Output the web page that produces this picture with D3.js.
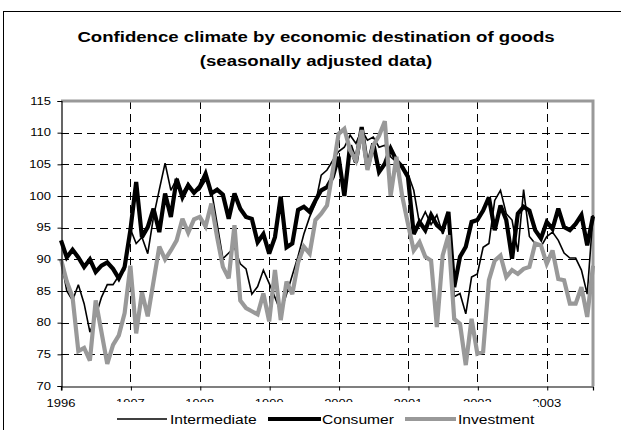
<!DOCTYPE html>
<html>
<head>
<meta charset="utf-8">
<script src="https://cdn.jsdelivr.net/npm/d3@7"></script>
<style>
  html, body { margin: 0; padding: 0; background: #fff; }
  svg { display: block; }
  text { font-family: Arial, "Liberation Sans", sans-serif; fill: #000; }
</style>
</head>
<body>
<svg id="chart" width="621" height="430"></svg>
<script>
// Monthly confidence indicators, January 1996 to September 2003
const yearLabels = ["1996", "1997", "1998", "1999", "2000", "2001", "2002", "2003"];
const yTicks = [70, 75, 80, 85, 90, 95, 100, 105, 110, 115];
const seriesNames = ["Intermediate", "Consumer", "Investment"];

const intermediate = [
  90, 85, 83.5, 86, 83, 78.5, 81, 84, 86, 86, 87.4, 88.3,
  94.8, 92.5, 93.5, 90.9, 96.7, 101, 105.2, 100.9, 102.7, 100.5, 102, 100.5,
  101, 102.5, 101, 95.6, 90.1, 91, 91.9, 89.3, 88.5, 84.5, 85.7, 88.3,
  86.2, 84, 81.7, 84.5, 87.5, 90.5, 94, 96.7, 98.8, 103.3, 104.1, 105.6,
  107, 107.7, 109.6, 108.3, 110.4, 108.8, 109.3, 107.7, 108, 106.2, 105.4, 104.6,
  103.5, 100.9, 95.6, 97.5, 95.5, 97, 94, 97.2, 84.1, 84.6, 81.4, 87.2,
  87.7, 91.9, 92.5, 99.3, 100.9, 97.2, 96.2, 91.2, 101, 93.6, 92.5, 92,
  93.6, 94.3, 93, 91, 90.2, 90.2, 88.3, 84.5, 97
];

const consumer = [
  93, 90.3, 91.5, 90.3, 88.8, 90, 88, 89, 89.5, 88.5, 87, 88.8,
  94.6, 102.2, 93.5, 95.1, 98, 94.3, 100.4, 96.7, 102.7, 99.8, 101.7, 100.5,
  101.5, 103.5, 100.4, 101, 100.2, 96.4, 100.4, 98, 96.7, 96.4, 92.7, 94,
  90.9, 93.5, 99.9, 91.9, 92.5, 97.8, 98.3, 97.5, 99.3, 100.9, 101.4, 103,
  106.2, 100, 108, 105.3, 110.9, 104.4, 108.3, 103.8, 105.1, 107.5, 105.6, 104.6,
  103, 94, 95.9, 94.6, 97, 95.4, 94.6, 97.5, 85.6, 90.4, 92, 95.9,
  96.2, 97.7, 99.8, 94.6, 98.5, 96.2, 90.1, 97.2, 98.3, 97.7, 94.6, 93.3,
  95.9, 94.8, 98, 95.1, 94.6, 95.6, 97, 92.2, 96.8
];

const investment = [
  90, 86.5, 84, 75.5, 76, 74, 83.5, 78.5, 73.5, 76.5, 78, 81.5,
  89, 78.3, 84.8, 81, 86.5, 92, 90, 91.4, 93, 96.4, 94.2, 96.3,
  96.7, 95.2, 98.8, 93.5, 88.8, 87, 95.4, 83.5, 82.3, 81.8, 81.3, 84.6,
  80.2, 88.3, 80.4, 86.5, 84.5, 89.5, 92, 90.9, 96.2, 97.2, 98.5, 104,
  109.8, 110.6, 107.2, 105.6, 110.4, 104.1, 108, 109.5, 111.8, 100, 106.2, 100,
  95.6, 91.4, 92.7, 90.4, 89.8, 79.3, 90.6, 93.8, 80.6, 79.8, 73.3, 80.6,
  75.1, 75.4, 86.7, 89.8, 90.6, 87.2, 88.3, 87.7, 88.5, 88.8, 92.5, 92.2,
  89.3, 91.4, 86.9, 86.7, 83, 83, 85.6, 80.9, 89
];

const svg = d3.select("#chart");
const W = 621, H = 430;
const plot = { left: 61, right: 593, top: 101, bottom: 386 };

svg.append("rect").attr("width", W).attr("height", H).attr("fill", "#fff");

// chart frame
svg.append("rect")
  .attr("x", 3.5).attr("y", 11.5)
  .attr("width", 720).attr("height", 520)
  .attr("fill", "none").attr("stroke", "#000").attr("stroke-width", 1);

// helper: text drawn slightly widened horizontally
function label(g, x, y, str, opts) {
  const t = g.append("text")
    .attr("transform", `translate(${x},${y}) scale(${opts.sx || 1},1)`)
    .attr("font-size", opts.size)
    .attr("text-anchor", opts.anchor || "start")
    .text(str);
  if (opts.bold) t.attr("font-weight", "bold");
  return t;
}

// title
label(svg, 316, 42, "Confidence climate by economic destination of goods", { size: 15.5, sx: 1.2, anchor: "middle", bold: true });
label(svg, 316, 66, "(seasonally adjusted data)", { size: 15.5, sx: 1.2, anchor: "middle", bold: true });

const n = investment.length;
const x = d3.scaleLinear().domain([0, n - 1]).range([plot.left, plot.right]);
const y = d3.scaleLinear().domain([70, 115]).range([plot.bottom, plot.top]);

// grid
const grid = svg.append("g").attr("stroke", "#000").attr("stroke-width", 1).attr("stroke-dasharray", "8,5");
yTicks.filter(v => v > 70 && v < 115).forEach(v => {
  grid.append("line")
    .attr("x1", plot.left).attr("x2", plot.right)
    .attr("y1", Math.round(y(v)) + 0.5).attr("y2", Math.round(y(v)) + 0.5);
});
yearLabels.slice(1).forEach((yr, k) => {
  const xv = Math.round(x((k + 1) * 12)) + 0.5;
  grid.append("line")
    .attr("x1", xv).attr("x2", xv)
    .attr("y1", plot.top).attr("y2", plot.bottom);
});

// plot area border (top and right)
svg.append("path")
  .attr("d", `M${plot.left},${plot.top} H${plot.right} V${plot.bottom}`)
  .attr("fill", "none").attr("stroke", "#999").attr("stroke-width", 3);

// series
const line = d3.line().x((d, i) => x(i)).y(d => y(d));
const styles = [
  { data: intermediate, color: "#000", width: 1.6 },
  { data: consumer, color: "#000", width: 4.2 },
  { data: investment, color: "#999", width: 4.2 }
];
styles.forEach(s => {
  svg.append("path")
    .datum(s.data)
    .attr("d", line)
    .attr("fill", "none")
    .attr("stroke", s.color)
    .attr("stroke-width", s.width)
    .attr("stroke-linejoin", "miter")
    .attr("stroke-miterlimit", 3);
});

// y axis
const yAxis = svg.append("g")
  .attr("transform", `translate(${plot.left + 0.5},0)`)
  .call(d3.axisLeft(y).tickValues(yTicks).tickSize(4).tickFormat(""));
yAxis.select(".domain").attr("stroke", "#000").attr("stroke-width", 1.2);
yTicks.forEach(v => {
  label(svg, 51, y(v) + 3.6, String(v), { size: 10, sx: 1.3, anchor: "end" });
});

// x axis
const xAxis = svg.append("g")
  .attr("transform", `translate(0,${plot.bottom + 0.5})`)
  .call(d3.axisBottom(x).tickValues(yearLabels.map((d, k) => k * 12)).tickSize(4).tickFormat(""));
xAxis.select(".domain").attr("stroke", "#000").attr("stroke-width", 1.2);
xAxis.selectAll(".tick line").attr("transform", "translate(0.5,0)");
yearLabels.forEach((yr, k) => {
  label(svg, x(k * 12), 407, yr, { size: 10, sx: 1.3, anchor: "middle" });
});

// legend
const legend = svg.append("g");
legend.append("rect")
  .attr("x", 110).attr("y", 402).attr("width", 428).attr("height", 28)
  .attr("fill", "#fff");
const legendItems = [
  { x0: 117, x1: 167, tx: 170 },
  { x0: 268, x1: 321, tx: 322 },
  { x0: 405, x1: 456, tx: 458 }
];
seriesNames.forEach((name, k) => {
  const it = legendItems[k];
  legend.append("line")
    .attr("x1", it.x0).attr("x2", it.x1)
    .attr("y1", 419).attr("y2", 419)
    .attr("stroke", styles[k].color)
    .attr("stroke-width", styles[k].width);
  label(legend, it.tx, 424, name, { size: 12.5, sx: 1.25 });
});
</script>
</body>
</html>
